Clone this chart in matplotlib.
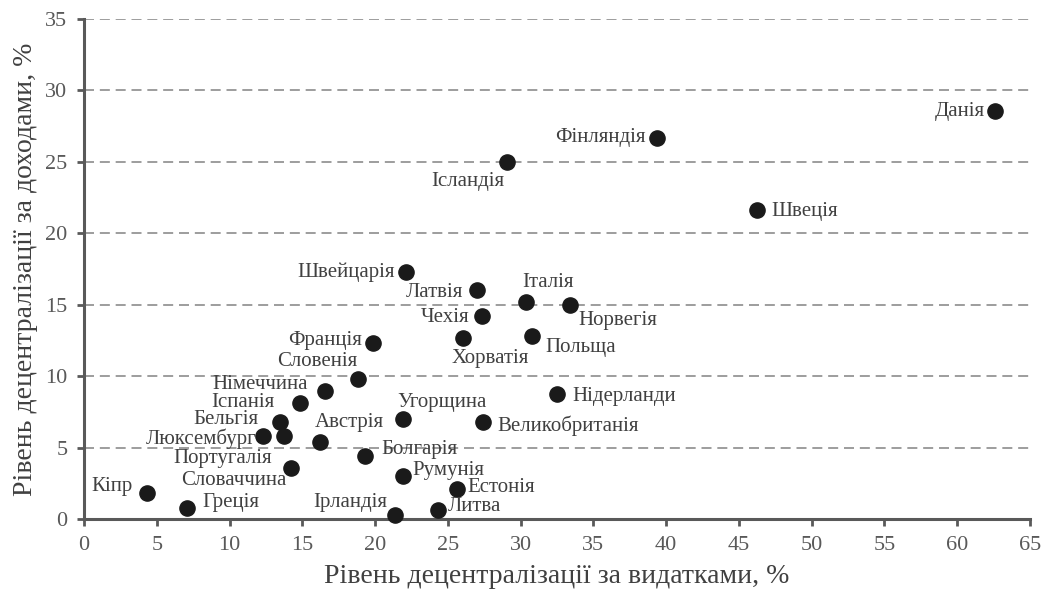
import matplotlib.pyplot as plt

plt.rcParams['font.family'] = ['Liberation Serif', 'DejaVu Serif']

countries = ['Данія', 'Фінляндія', 'Ісландія', 'Швеція', 'Швейцарія', 'Латвія',
             'Італія', 'Норвегія', 'Чехія', 'Хорватія', 'Польща', 'Франція',
             'Словенія', 'Німеччина', 'Нідерланди', 'Іспанія', 'Угорщина',
             'Великобританія', 'Бельгія', 'Люксембург', 'Португалія', 'Австрія',
             'Болгарія', 'Словаччина', 'Румунія', 'Естонія', 'Литва', 'Ірландія',
             'Греція', 'Кіпр']
expenditure = [62.6, 39.4, 29.1, 46.25, 22.1, 27.0, 30.4, 33.4, 27.35, 26.05,
               30.8, 19.85, 18.8, 16.55, 32.5, 14.85, 21.9, 27.4, 13.5, 12.3,
               13.75, 16.2, 19.3, 14.2, 21.9, 25.6, 24.3, 21.4, 7.1, 4.3]
revenue = [28.55, 26.7, 25.0, 21.6, 17.3, 16.0, 15.2, 15.0, 14.2, 12.65,
           12.8, 12.3, 9.8, 8.96, 8.75, 8.1, 7.0, 6.8, 6.8, 5.8,
           5.8, 5.4, 4.4, 3.6, 3.0, 2.1, 0.63, 0.28, 0.77, 1.8]

# label placement: (dx px, dy px down, ha)
label_pos = {
    'Данія': (-10, 0, 'right'), 'Фінляндія': (-12, 0, 'right'),
    'Ісландія': (-3, 20, 'right'), 'Швеція': (14, 1, 'left'),
    'Швейцарія': (-11, 0, 'right'), 'Латвія': (-14, 2, 'right'),
    'Італія': (-4, -19, 'left'), 'Норвегія': (8, 16, 'left'),
    'Чехія': (-13, 1, 'right'), 'Хорватія': (-12, 20, 'left'),
    'Польща': (13, 11, 'left'), 'Франція': (-11, -3, 'right'),
    'Словенія': (0, -17, 'right'), 'Німеччина': (-17, -6, 'right'),
    'Нідерланди': (15, 3, 'left'), 'Іспанія': (-26, -1, 'right'),
    'Угорщина': (-5, -16, 'left'), 'Великобританія': (15, 4, 'left'),
    'Бельгія': (-22, -2, 'right'), 'Люксембург': (-7, 3, 'right'),
    'Португалія': (-12, 22, 'right'), 'Австрія': (-5, -19, 'left'),
    'Болгарія': (16, -7, 'left'), 'Словаччина': (-4, 13, 'right'),
    'Румунія': (10, -6, 'left'), 'Естонія': (11, -1, 'left'),
    'Литва': (10, -3, 'left'), 'Ірландія': (-8, -12, 'right'),
    'Греція': (15, -5, 'left'), 'Кіпр': (-14, -7, 'right'),
}

fig = plt.figure(figsize=(10.44, 5.94), dpi=100)
ax = fig.add_axes([0.0805, 0.1263, 0.906, 0.8417])

ax.scatter(expenditure, revenue, s=120, color='#1a1a1a', zorder=5, clip_on=False)

for name, x, y in zip(countries, expenditure, revenue):
    dx, dy, ha = label_pos[name]
    ax.annotate(name, (x, y), xytext=(dx * 0.72, -dy * 0.72),
                textcoords='offset points', ha=ha, va='center',
                fontsize=15, color='#404040', zorder=6)

ax.set_xlim(0, 65)
ax.set_ylim(0, 35)
ax.set_xticks(range(0, 66, 5))
ax.set_yticks(range(0, 36, 5))
ax.yaxis.grid(True, linestyle=(0, (6, 3.5)), color='#8c8c8c', linewidth=1.2)
ax.set_axisbelow(True)

for side in ['top', 'right']:
    ax.spines[side].set_visible(False)
for side in ['left', 'bottom']:
    ax.spines[side].set_color('#595959')
    ax.spines[side].set_linewidth(2.2)
ax.tick_params(axis='both', colors='#595959', labelsize=16, length=5, width=2,
               direction='out', pad=7)
for lbl in ax.get_xticklabels() + ax.get_yticklabels():
    lbl.set_color('#595959')

ax.set_xlabel('Рівень децентралізації за видатками, %', fontsize=20,
              color='#404040', labelpad=7)
ax.set_ylabel('Рівень децентралізації за доходами, %', fontsize=20,
              color='#404040', labelpad=5)

fig.savefig('out.png', dpi=100)
